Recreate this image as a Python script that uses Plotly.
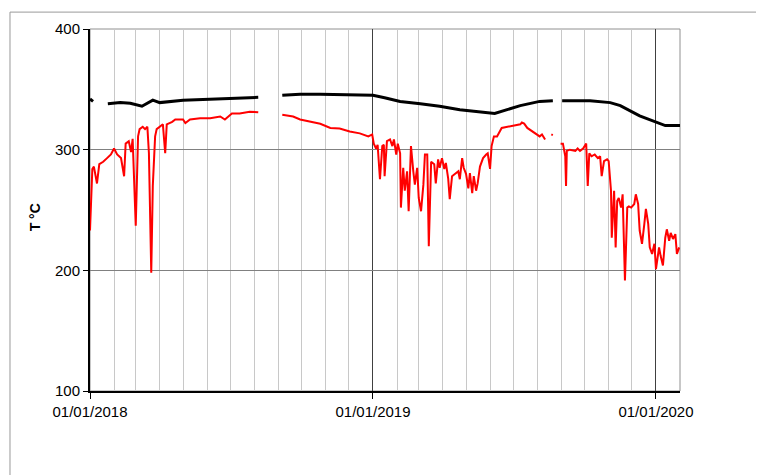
import pandas as pd
import plotly.graph_objects as go

# Days since 01/01/2018 and temperatures (°C); None = gap in record
red_day = [0, 3, 5, 9, 12, 17, 22, 27, 31, 35, 40, 44, 46, 50, 53, 55, 59, 62, 64, 68, 71, 74, 76, 79, 81, 84,
           86, 90, 94, 97, 99, 106, 110, 120, 123, 129, 142, 155, 168, 174, 183, 193, 206, 217, 230,
           248, 262, 271, 284, 297, 310, 322, 335, 348, 359, 364, 366, 369, 371, 374, 377, 379, 380, 383,
           387, 390, 392, 395, 397, 400, 401, 404, 406, 409, 411, 414, 417, 419, 422, 424, 427, 430, 432,
           435, 437, 440, 444, 446, 449, 451, 454, 457, 459, 462, 464, 467, 471, 475, 477, 480, 482, 485,
           488, 490, 493, 495, 498, 500, 503, 507, 511, 513, 516, 518, 521, 525, 531, 538, 555, 557, 560,
           564, 571, 574, 580, 583, 587, 591, 595, 597, 602, 607, 610, 613, 614, 615, 619, 626, 629, 632,
           636, 640, 642, 644, 647, 651, 655, 658, 660, 663, 667, 669, 672, 673, 676, 678, 680, 682, 685,
           687, 690, 693, 695, 698, 702, 704, 707, 709, 712, 715, 717, 720, 722, 725, 728, 730, 734, 736,
           739, 742, 744, 747, 749, 752, 755, 757, 760]
red_temp = [233, 284, 286, 272, 288, 290, 293, 296, 301, 296, 293, 278, 305, 307, 298, 309, 237, 311, 317, 319,
            317, 319, 297, 198, 270, 311,
            317, 319, 321, 297, 321, 323, 325, 325, 322, 325, 326, 326, 327.5, 325, 330, 330, 331.5, 331, None,
            329, 327.5, 325, 323, 321.5, 318, 317.5, 315, 313.5, 311, 312.6, 305, 301, 304, 275.5, 303, 304, 278,
            307,
            308.5, 303, 308.5, 296, 305, 297, 252, 285, 266, 282, 249, 303, 282, 271, 285, 260, 249, 271, 296,
            296, 220, 290, 288, 272, 292, 285, 293, 284, 289, 276, 259, 278, 280, 282, 275.5, 293, 285, 280,
            268, 280.5, 264, 278, 266, 272, 286, 293, 296, 297, 284, 303, 311, 311, 318, 319, 321, 322.5, 321.6,
            318, 315, 313.6, 311, 312.6, 308.5, None, 312.6, 312, None, 305, 305, 294.5, 270, 299, 300, 299, 301,
            299,
            301, 305, 270, 297, 294.5, 296, 293, 294.5, 278, 290.5, 292, 290.5, 266, 227, 266, 219, 257.5, 260,
            252,
            263, 191.5, 252, 253, 252, 255, 263, 255, 233, 222, 238.5, 251, 238.5, 219, 213.5, 222, 201, 219, 212,
            204, 227, 234, 224.5, 231, 226, 230, 213.5, 219]

black_day = [0, 4, 14, 23, 39, 52, 67, 81, 90, 120, 164, 217, 230, 248, 271, 297, 322, 365, 380, 400, 426,
             451, 477, 503, 522, 555, 580, 597, 603, 609, 645, 671, 684, 709, 730, 742, 761]
black_temp = [342, 340, None, 338, 339, 338.5, 336, 341, 339, 341, 342, 343.4, None, 345, 346, 346, 345.5, 345,
              343, 340, 338, 336, 333, 331.5, 330, 336.5, 340, 340.6, None, 340.6, 340.6, 339, 336.5, 328,
              322.5, 320, 320]

x_tick_vals = ["2018-01-01", "2019-01-01", "2020-01-01"]
x_tick_text = ["01/01/2018", "01/01/2019", "01/01/2020"]
y_tick_vals = [100, 200, 300, 400]
y_title = "T °C"

start = pd.Timestamp("2018-01-01")
red_dates = start + pd.to_timedelta(red_day, unit="D")
black_dates = start + pd.to_timedelta(black_day, unit="D")

FONT = "Liberation Sans, Arial, sans-serif"

fig = go.Figure()
fig.add_trace(go.Scatter(x=black_dates, y=black_temp, mode="lines",
                         line=dict(color="black", width=3), connectgaps=False, showlegend=False))
fig.add_trace(go.Scatter(x=red_dates, y=red_temp, mode="lines",
                         line=dict(color="#ff0000", width=2), connectgaps=False, showlegend=False))

fig.update_layout(
    width=764, height=475,
    margin=dict(l=82, r=92, t=19, b=92),
    paper_bgcolor="white", plot_bgcolor="white",
    font=dict(family=FONT, size=15, color="black"),
    showlegend=False,
)
fig.update_xaxes(
    type="date", range=["2018-01-01", "2020-02-01"],
    tickmode="array", tickvals=x_tick_vals, ticktext=x_tick_text,
    ticks="outside", ticklen=6, tickwidth=1, tickcolor="black",
    showline=True, linecolor="black", linewidth=2,
    showgrid=True, gridcolor="#404040", gridwidth=1,
    minor=dict(dtick="M1", tick0="2018-01-01", showgrid=True, gridcolor="#c8c8c8", gridwidth=1, ticks=""),
    zeroline=False, ticklabelstandoff=0,
)
fig.update_yaxes(
    range=[100, 400], tickmode="array", tickvals=y_tick_vals,
    ticks="outside", ticklen=5, tickwidth=1, tickcolor="black",
    showline=True, linecolor="black", linewidth=2,
    showgrid=True, gridcolor="#808080", gridwidth=1, zeroline=False,
)
# plot-area frame (gray top/right)
fig.add_shape(type="rect", xref="paper", yref="paper", x0=0, x1=1, y0=0, y1=1,
              line=dict(color="#909090", width=1), layer="below")
# chart-area outer border
fig.add_shape(type="rect", xref="paper", yref="paper", x0=-0.1356, x1=1.3, y0=-0.35, y1=1.0467,
              line=dict(color="#999999", width=1), layer="below")
fig.add_annotation(text="<b>" + y_title + "</b>", xref="paper", yref="paper", x=-0.093, y=0.48,
                   xanchor="center", yanchor="middle",
                   textangle=-90, showarrow=False, font=dict(family=FONT, size=14, color="black"))

fig.write_html("out.html")
